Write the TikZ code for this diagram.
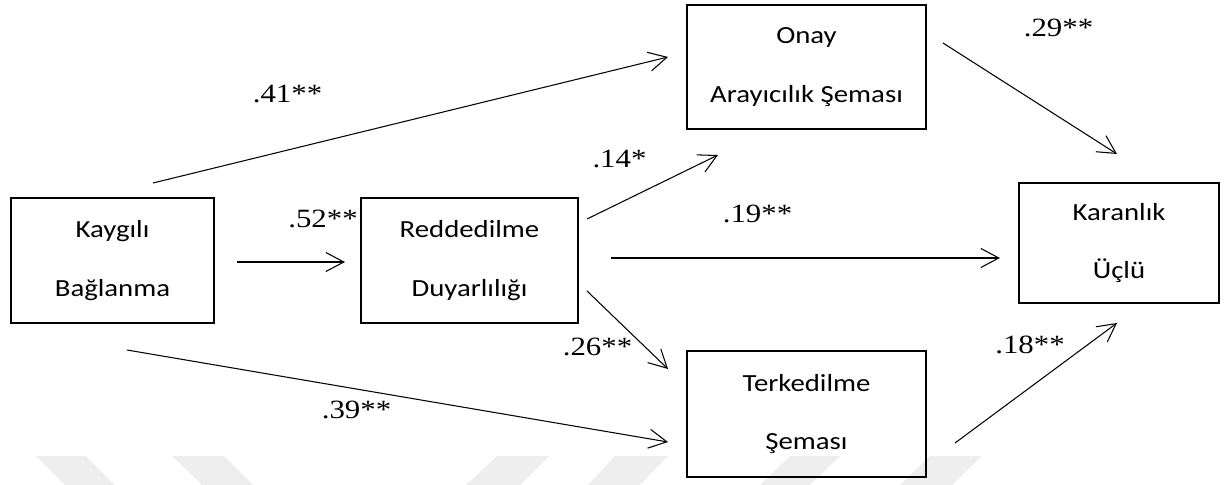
\documentclass[tikz,border=0pt]{standalone}
\usepackage{fontspec}
\setmainfont{Liberation Serif}[FakeStretch=1.17]
\newfontfamily\boxfont{Carlito}[FakeStretch=1.17]
\usetikzlibrary{arrows.meta}
\definecolor{wmgray}{HTML}{EEEEEE}
\tikzset{
        box/.style={draw,line width=1.1pt,align=center,inner sep=0pt,
                font=\boxfont\fontsize{14}{33.5}\selectfont},
        coef/.style={inner sep=0pt,font=\fontsize{15}{18}\selectfont},
        arr/.style={line width=0.6pt,-{Straight Barb[length=3.6mm,width=3.8mm]}}
}
\begin{document}
\begin{tikzpicture}
        \useasboundingbox (0,0) rectangle (24.64,-9.70);

        \fill[wmgray] (0.72,-9.12) -- (1.72,-9.12) -- (2.30,-9.70) -- (1.30,-9.70) -- cycle;
        \fill[wmgray] (3.44,-9.12) -- (4.48,-9.12) -- (5.06,-9.70) -- (4.04,-9.70) -- cycle;
        \fill[wmgray] (9.94,-9.12) -- (10.98,-9.12) -- (10.40,-9.70) -- (9.32,-9.70) -- cycle;
        \fill[wmgray] (12.30,-9.12) -- (13.36,-9.12) -- (12.80,-9.70) -- (11.76,-9.70) -- cycle;
        \fill[wmgray] (15.80,-9.12) -- (16.80,-9.12) -- (16.20,-9.70) -- (15.20,-9.70) -- cycle;
        \fill[wmgray] (18.60,-9.12) -- (19.64,-9.12) -- (19.04,-9.70) -- (18.00,-9.70) -- cycle;

        \node[box,minimum width=4.06cm,minimum height=2.5cm] (kb) at (2.25,-5.21) {Kaygılı\\Bağlanma};
        \node[box,minimum width=4.34cm,minimum height=2.5cm] (rd) at (9.39,-5.21) {Reddedilme\\Duyarlılığı};
        \node[box,minimum width=4.78cm,minimum height=2.48cm] (onay) at (16.13,-1.34) {Onay\\Arayıcılık Şeması};
        \node[box,minimum width=4.78cm,minimum height=2.52cm] (terk) at (16.13,-8.28) {Terkedilme\\Şeması};
        \node[box,minimum width=4.0cm,minimum height=2.4cm] (kar) at (22.38,-4.86) {Karanlık\\Üçlü};

        \coordinate (kb1) at (3.06,-3.66);
        \coordinate (kb2) at (4.74,-5.24);
        \coordinate (kb3) at (2.54,-7.00);
        \coordinate (rd0) at (6.90,-5.24);
        \coordinate (rd1) at (11.74,-4.38);
        \coordinate (rd2) at (12.22,-5.16);
        \coordinate (rd3) at (11.74,-5.82);
        \coordinate (onay0) at (13.36,-1.14);
        \coordinate (onay1) at (14.36,-3.10);
        \coordinate (onay2) at (18.86,-0.86);
        \coordinate (terk0) at (13.36,-8.84);
        \coordinate (terk1) at (13.36,-7.38);
        \coordinate (terk2) at (19.10,-8.86);
        \coordinate (kar0) at (22.34,-3.08);
        \coordinate (kar1) at (20.00,-5.16);
        \coordinate (kar2) at (22.34,-6.46);

        \draw[arr] (kb1) -- (onay0);
        \draw[arr] (kb2) -- (rd0);
        \draw[arr] (kb3) -- (terk0);
        \draw[arr] (rd1) -- (onay1);
        \draw[arr] (rd2) -- (kar1);
        \draw[arr] (rd3) -- (terk1);
        \draw[arr] (onay2) -- (kar0);
        \draw[arr] (terk2) -- (kar2);

        \node[coef] (c41) at (5.75,-1.88) {.41**};
        \node[coef] (c52) at (6.46,-4.38) {.52**};
        \node[coef] (c39) at (7.13,-8.20) {.39**};
        \node[coef] (c14) at (12.39,-3.17) {.14*};
        \node[coef] (c19) at (15.15,-4.27) {.19**};
        \node[coef] (c26) at (11.95,-6.93) {.26**};
        \node[coef] (c29) at (21.17,-0.56) {.29**};
        \node[coef] (c18) at (20.60,-6.90) {.18**};
\end{tikzpicture}
\end{document}
